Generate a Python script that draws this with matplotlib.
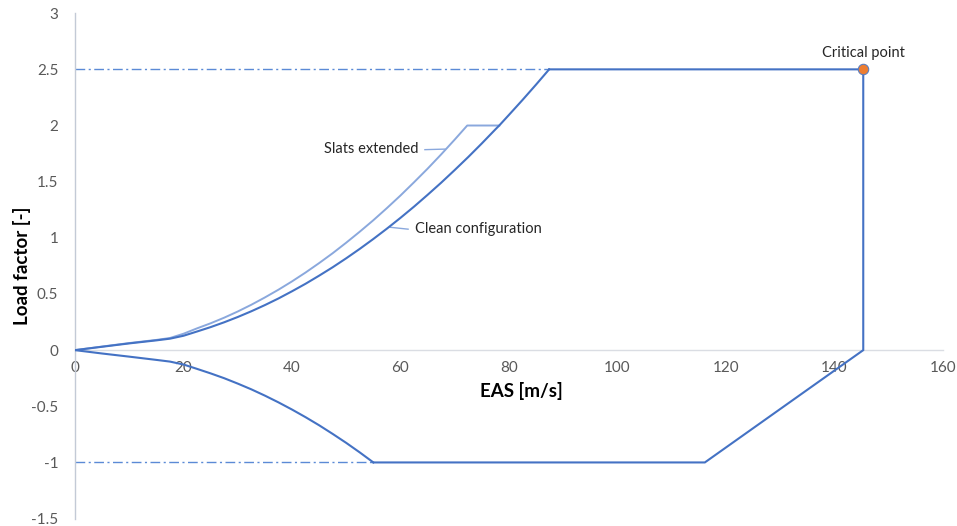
import matplotlib
matplotlib.use("Agg")
import matplotlib.pyplot as plt

plt.rcParams['font.family'] = ['Lato', 'DejaVu Sans']

# Clean configuration: positive stall boundary (EAS [m/s], load factor)
clean_v = [0, 5, 10, 15, 17.5, 20, 22.5, 25, 27.5, 30, 32.5, 35, 37.5, 40, 42.5, 45, 47.5,
           50, 52.5, 55, 57.5, 60, 62.5, 65, 67.5, 70, 72.5, 75, 77.5, 78.2, 80, 82.5, 85, 87.4]
clean_n = [0, 0.03, 0.06, 0.087, 0.102, 0.128, 0.166, 0.205, 0.248, 0.295, 0.346, 0.401,
           0.460, 0.524, 0.591, 0.663, 0.738, 0.818, 0.902, 0.990, 1.082, 1.178, 1.278,
           1.383, 1.491, 1.604, 1.720, 1.841, 1.966, 2.0, 2.095, 2.228, 2.365, 2.5]

# Slats extended: positive stall boundary up to n = 2, then flat to the clean curve
slats_v = [0, 5, 10, 15, 17.5, 20, 22.5, 25, 27.5, 30, 32.5, 35, 37.5, 40, 42.5, 45, 47.5,
           50, 52.5, 55, 57.5, 60, 62.5, 65, 67.5, 70, 72.3, 78.2]
slats_n = [0, 0.032, 0.063, 0.091, 0.108, 0.146, 0.194, 0.239, 0.289, 0.344, 0.404, 0.469,
           0.538, 0.612, 0.691, 0.775, 0.863, 0.957, 1.055, 1.157, 1.265, 1.377, 1.495,
           1.616, 1.743, 1.875, 2.0, 2.0]

# Negative stall boundary
neg_v = [0, 5, 10, 15, 17.5, 20, 22.5, 25, 27.5, 30, 32.5, 35, 37.5, 40, 42.5, 45, 47.5,
         50, 52.5, 55]
neg_n = [0, -0.03, -0.058, -0.087, -0.102, -0.128, -0.167, -0.207, -0.250, -0.298, -0.349,
         -0.405, -0.465, -0.529, -0.597, -0.669, -0.746, -0.826, -0.911, -1.0]

# Structural / gust envelope corners
env_v = [55, 116.1, 145.3, 145.3, 87.4]
env_n = [-1.0, -1.0, 0.0, 2.5, 2.5]

# Load factor limits
n_max = 2.5
n_min = -1.0
v_a = 87.4    # speed where the clean curve meets n_max
v_s_neg = 55  # speed where the negative curve meets n_min

critical_v = 145.3
critical_n = 2.5

x_ticks = [0, 20, 40, 60, 80, 100, 120, 140, 160]
y_ticks = [-1.5, -1, -0.5, 0, 0.5, 1, 1.5, 2, 2.5, 3]

main_blue = '#4472C4'
light_blue = '#8AA8DD'
dash_blue = '#5B8AD6'
text_col = '#262626'
tick_col = '#595959'

fig = plt.figure(figsize=(9.57, 5.26), dpi=100)
ax = fig.add_axes([0.07837, 0.01407, 0.90700, 0.96083])

# limit lines
dash_pattern = (7, 2.5, 1.5, 2.5)
ax.plot([0, v_a], [n_max, n_max], color=dash_blue, lw=1.0, dashes=dash_pattern, zorder=2)
ax.plot([0, v_s_neg], [n_min, n_min], color=dash_blue, lw=1.0, dashes=dash_pattern, zorder=2)

ax.plot(slats_v, slats_n, color=light_blue, lw=1.4, zorder=3, solid_joinstyle='round')
ax.plot(clean_v, clean_n, color=main_blue, lw=1.5, zorder=4, solid_joinstyle='round')
ax.plot(neg_v, neg_n, color=main_blue, lw=1.5, zorder=4, solid_joinstyle='round')
ax.plot(env_v, env_n, color=main_blue, lw=1.5, zorder=4, solid_joinstyle='miter')

ax.plot([critical_v], [critical_n], 'o', ms=7.5, mfc='#ED7D31', mec='#5B7DBF', mew=0.8, zorder=5)
ax.text(critical_v, 2.645, 'Critical point', ha='center', va='center', fontsize=10.5, color=text_col)

# curve labels with leader lines
ax.plot([64.5, 68.2], [1.785, 1.79], color=light_blue, lw=1.0, zorder=3)
ax.text(63.4, 1.79, 'Slats extended', ha='right', va='center', fontsize=10.5, color=text_col)
ax.plot([61.4, 58.1], [1.077, 1.094], color=light_blue, lw=1.0, zorder=3)
ax.text(62.6, 1.077, 'Clean configuration', ha='left', va='center', fontsize=10.5, color=text_col)

ax.set_xlim(0, 160)
ax.set_ylim(-1.5, 3)
ax.set_xticks(x_ticks)
ax.set_xticklabels([str(t) for t in x_ticks])
ax.set_yticks(y_ticks)
ax.set_yticklabels(['{:g}'.format(t) for t in y_ticks])

ax.spines['top'].set_visible(False)
ax.spines['right'].set_visible(False)
ax.spines['bottom'].set_position(('data', 0))
ax.spines['bottom'].set_color('#DADDE3')
ax.spines['bottom'].set_linewidth(1.0)
ax.spines['left'].set_color('#C3CAD6')
ax.spines['left'].set_linewidth(1.0)
ax.tick_params(axis='x', length=0, pad=8, labelsize=11, labelcolor=tick_col)
ax.tick_params(axis='y', length=0, pad=12, labelsize=11, labelcolor=tick_col)

fig.text(521 / 957, 1 - 391 / 526, 'EAS [m/s]', ha='center', va='center',
         fontsize=13.5, fontweight='bold', color='black')
fig.text(22 / 957, 1 - 266 / 526, 'Load factor [-]', ha='center', va='center',
         rotation=90, fontsize=13.5, fontweight='bold', color='black')

fig.savefig('out.png', dpi=100)
